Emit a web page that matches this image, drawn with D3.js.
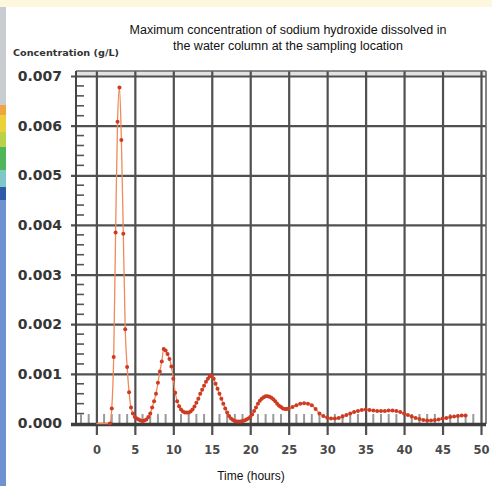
<!DOCTYPE html>
<html>
<head>
<meta charset="utf-8">
<script src="https://cdn.jsdelivr.net/npm/d3@7"></script>
<style>
  html, body { margin: 0; padding: 0; background: #fff; }
  svg { display: block; }
</style>
</head>
<body>
<svg id="chart"></svg>
<script>
// sampled hours and the concentration read at each one (g/L)
const hours = [
  0, 0.5, 1, 1.5, 1.75, 2, 2.25, 2.5, 2.75, 3, 3.25, 3.5, 3.75, 4, 4.25, 4.5, 4.75,
  5, 5.25, 5.5, 5.75, 6, 6.25, 6.5, 6.75, 7, 7.25, 7.5, 7.75, 8, 8.25, 8.5, 8.75,
  9, 9.25, 9.5, 9.75, 10, 10.25, 10.5, 10.75, 11, 11.25, 11.5, 11.75, 12, 12.25, 12.5, 12.75,
  13, 13.25, 13.5, 13.75, 14, 14.25, 14.5, 14.75, 15, 15.25, 15.5, 15.75, 16, 16.25, 16.5, 16.75,
  17, 17.25, 17.5, 17.75, 18, 18.25, 18.5, 18.75, 19, 19.25, 19.5, 19.75, 20, 20.25, 20.5, 20.75,
  21, 21.25, 21.5, 21.75, 22, 22.25, 22.5, 22.75, 23, 23.25, 23.5, 23.75, 24, 24.25, 24.5, 24.75,
  25, 25.5, 26, 26.5, 27, 27.5, 28, 28.5, 29, 29.5, 30, 30.5, 31, 31.5, 32, 32.5,
  33, 33.5, 34, 34.5, 35, 35.5, 36, 36.5, 37, 37.5, 38, 38.5, 39, 39.5, 40, 40.5,
  41, 41.5, 42, 42.5, 43, 43.5, 44, 44.5, 45, 45.5, 46, 46.5, 47, 47.5, 48
]
const concentration = [
  0, 0, 0, 0, 0, 0.0003, 0.00134, 0.00385, 0.00608, 0.00677, 0.00571, 0.00382, 0.0019, 0.00114, 0.00063, 0.00032, 0.0002,
  0.00013, 0.0001, 0.00008, 0.00006, 0.00005, 0.00006, 0.00008, 0.00013, 0.0002, 0.00032, 0.00045, 0.0006, 0.00082, 0.00105, 0.00125, 0.0015,
  0.00147, 0.0014, 0.0013, 0.00115, 0.0009, 0.00062, 0.00045, 0.00035, 0.00028, 0.00024, 0.00022, 0.00022, 0.00022, 0.00024, 0.00028, 0.00034,
  0.00042, 0.0005, 0.0006, 0.00068, 0.00076, 0.00084, 0.0009, 0.00095, 0.00096, 0.0009, 0.0008, 0.0007, 0.0006, 0.0005, 0.0004, 0.0003,
  0.00022, 0.00015, 0.0001, 0.00007, 0.00005, 0.00004, 0.00004, 0.00004, 0.00005, 0.00006, 0.00008, 0.0001, 0.00013, 0.00018, 0.00025, 0.00032,
  0.0004, 0.00046, 0.0005, 0.00053, 0.00055, 0.00055, 0.00054, 0.00052, 0.00049, 0.00045, 0.0004, 0.00036, 0.00033, 0.0003, 0.00029, 0.00029,
  0.0003, 0.00033, 0.00037, 0.0004, 0.00041, 0.0004, 0.00037, 0.00029, 0.0002, 0.00015, 0.00012, 0.0001, 0.0001, 0.00011, 0.00014, 0.00017,
  0.0002, 0.00023, 0.00025, 0.00027, 0.00028, 0.00027, 0.00026, 0.00025, 0.00025, 0.00025, 0.00026, 0.00026, 0.00025, 0.00023, 0.0002, 0.00017,
  0.00014, 0.00011, 0.00009, 0.00007, 0.00006, 0.00006, 0.00007, 0.00008, 0.0001, 0.00011, 0.00013, 0.00014, 0.00015, 0.00016, 0.00016
]

const yTicks = [0, 0.001, 0.002, 0.003, 0.004, 0.005, 0.006, 0.007]
const xTicks = [0, 5, 10, 15, 20, 25, 30, 35, 40, 45, 50]
const titleLines = [
  'Maximum concentration of sodium hydroxide dissolved in',
  'the water column at the sampling location'
]
const yTitle = 'Concentration (g/L)'
const xTitle = 'Time (hours)'

// the screenshot's left side-strip colours (top to bottom)
const stripColors = ['#c9cdd2', '#f0a640', '#ecd23a', '#b9d24a', '#4fb65a', '#7fc8c8', '#2f5aa8', '#6f93d0']

const width = 492
const height = 486
const plotLeft = 76, plotRight = 486, plotTop = 71, plotBottom = 424

const svg = d3.select('#chart')
  .attr('width', width)
  .attr('height', height)

/* page decorations around the chart */
svg.append('rect').attr('x', 0).attr('y', 0).attr('width', width).attr('height', 7).attr('fill', '#fdf7dd')
const stripEdges = [7, 105, 115, 132, 147, 170, 187, 200, height]
svg.append('g').selectAll('rect')
  .data(stripColors)
  .enter().append('rect')
    .attr('x', 0).attr('width', 6)
    .attr('y', (d, i) => stripEdges[i])
    .attr('height', (d, i) => stripEdges[i + 1] - stripEdges[i])
    .attr('fill', d => d)

const data = hours.map((h, i) => ({ hour: h, value: concentration[i] }))

const x = d3.scaleLinear()
  .domain([-2.65, 50.65])
  .range([plotLeft, plotRight])

const y = d3.scaleLinear()
  .domain([0, 0.007])
  .range([423.5, 76])

/* frame band above the 0.007 line */
svg.append('rect')
  .attr('x', plotLeft).attr('y', plotTop)
  .attr('width', plotRight - plotLeft).attr('height', y(0.007) - plotTop)
  .attr('fill', '#e2e2e2')

/* minor ticks */
const minorY = d3.range(1, 36).map(i => i * 0.0002).filter((d, i) => (i + 1) % 5 !== 0)
svg.append('g').selectAll('line')
  .data(minorY)
  .enter().append('line')
    .attr('x1', plotLeft).attr('x2', plotLeft + 8)
    .attr('y1', d => y(d)).attr('y2', d => y(d))
    .attr('stroke', '#555').attr('stroke-width', 1.6)

const minorX = d3.range(-2, 51).filter(d => d % 5 !== 0)
svg.append('g').selectAll('line')
  .data(minorX)
  .enter().append('line')
    .attr('x1', d => x(d)).attr('x2', d => x(d))
    .attr('y1', plotBottom).attr('y2', plotBottom - 10)
    .attr('stroke', '#999').attr('stroke-width', 2)

/* horizontal grid + y labels */
const yAxis = svg.append('g')
  .attr('class', 'y-axis')
  .attr('transform', 'translate(' + plotLeft + ',0)')
  .call(d3.axisLeft(y)
    .tickValues(yTicks)
    .tickFormat(d3.format('.3f'))
    .tickSizeInner(-(plotRight - plotLeft))
    .tickSizeOuter(0)
    .tickPadding(14))
yAxis.select('.domain').remove()
yAxis.selectAll('line').attr('x1', -5).attr('stroke', '#505050').attr('stroke-width', 2.2)
yAxis.selectAll('text')
  .attr('fill', '#363636')
  .style('font-family', '"DejaVu Sans", Verdana, sans-serif')
  .style('font-weight', 'bold')
  .style('font-size', '14px')

/* vertical grid + x labels */
const xAxis = svg.append('g')
  .attr('class', 'x-axis')
  .attr('transform', 'translate(0,' + plotBottom + ')')
  .call(d3.axisBottom(x)
    .tickValues(xTicks)
    .tickSizeInner(-(plotBottom - plotTop))
    .tickSizeOuter(0)
    .tickPadding(22))
xAxis.select('.domain').remove()
xAxis.selectAll('line').attr('y1', 11).attr('stroke', '#505050').attr('stroke-width', 2.2)
xAxis.selectAll('text')
  .attr('fill', '#4a4a4a')
  .style('font-family', '"DejaVu Sans", Verdana, sans-serif')
  .style('font-weight', 'bold')
  .style('font-size', '11.5px')

/* plot frame */
svg.append('line').attr('x1', plotLeft).attr('x2', plotRight).attr('y1', plotTop).attr('y2', plotTop)
  .attr('stroke', '#666').attr('stroke-width', 1.6)
svg.append('line').attr('x1', plotRight).attr('x2', plotRight).attr('y1', plotTop).attr('y2', plotBottom)
  .attr('stroke', '#666').attr('stroke-width', 1.6)
svg.append('line').attr('x1', plotLeft).attr('x2', plotLeft).attr('y1', plotTop).attr('y2', plotBottom)
  .attr('stroke', '#444').attr('stroke-width', 2)
svg.append('line').attr('x1', plotLeft - 5).attr('x2', plotRight).attr('y1', y(0) + 1).attr('y2', y(0) + 1)
  .attr('stroke', '#3e3e3e').attr('stroke-width', 3.5)

/* series */
const line = d3.line()
  .x(d => x(d.hour))
  .y(d => y(d.value))
  .curve(d3.curveMonotoneX)

svg.append('path')
  .datum(data)
  .attr('fill', 'none')
  .attr('stroke', '#f08a5a')
  .attr('stroke-width', 1.3)
  .attr('d', line)

svg.append('g').selectAll('circle')
  .data(data.filter(d => d.hour >= 1.75))
  .enter().append('circle')
    .attr('cx', d => x(d.hour))
    .attr('cy', d => y(d.value))
    .attr('r', 2)
    .attr('fill', '#cf3a22')

/* texts */
svg.append('text')
  .attr('x', 13).attr('y', 56)
  .attr('textLength', 106).attr('lengthAdjust', 'spacingAndGlyphs')
  .attr('fill', '#333')
  .style('font-family', '"DejaVu Sans", Verdana, sans-serif')
  .style('font-weight', 'bold')
  .style('font-size', '9.5px')
  .text(yTitle)

svg.append('g').selectAll('text')
  .data(titleLines)
  .enter().append('text')
    .attr('x', 288)
    .attr('y', (d, i) => 34 + i * 16)
    .attr('text-anchor', 'middle')
    .attr('fill', '#111')
    .style('font-family', '"Liberation Sans", Arial, sans-serif')
    .style('font-size', '12.5px')
    .text(d => d)

svg.append('text')
  .attr('x', 251).attr('y', 480)
  .attr('text-anchor', 'middle')
  .attr('fill', '#111')
  .style('font-family', '"Liberation Sans", Arial, sans-serif')
  .style('font-size', '12px')
  .text(xTitle)
</script>
</body>
</html>
